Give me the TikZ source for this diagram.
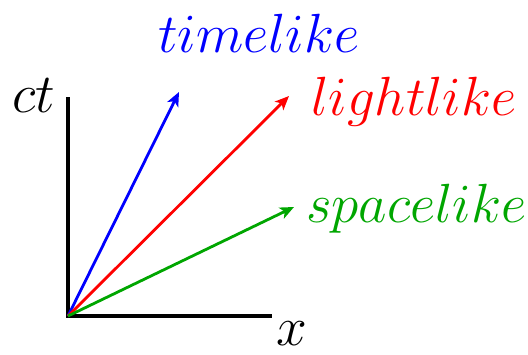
\documentclass[tikz,border=0pt]{standalone}
\usepackage{graphicx}
\usepackage{tikz}
\usetikzlibrary{arrows.meta}
\newcommand{\biglabel}[1]{\scalebox{1.11}{$#1$}}

\begin{document}
\begin{tikzpicture}[
    x=0.5pt, y=-0.5pt,
    axis/.style={line width=1.6pt, black},
    vec/.style={line width=1.4pt, -{Stealth[length=7pt, width=6pt, inset=1.8pt]}},
    lbl/.style={anchor=base west, inner sep=0pt, font=\fontsize{24.88}{28}\selectfont},
]
    \useasboundingbox (0,0) rectangle (528,354);
    % origin and axes
    \coordinate (O) at (68,316);
    \coordinate (ctend) at (68,97);
    \coordinate (xend) at (272,316);
    \draw[axis] (ctend) -- (O) -- (xend);
    \node[lbl] (ctlabel) at (12,112) {\biglabel{ct}};
    \node[lbl] (xlabel) at (276,345) {\biglabel{x}};

    % vectors
    \coordinate (tl) at (179,92);
    \coordinate (ll) at (289,96);
    \coordinate (sl) at (294,207);
    \draw[vec, blue] (O) -- (tl);
    \draw[vec, red] (O) -- (ll);
    \draw[vec, green!65!black] (O) -- (sl);

    \node[lbl, text=blue] (timelike) at (158,52) {\biglabel{timelike}};
    \node[lbl, text=red] (lightlike) at (311,115) {\biglabel{lightlike}};
    \node[lbl, text=green!65!black] (spacelike) at (306,222) {\biglabel{spacelike}};
\end{tikzpicture}
\end{document}
